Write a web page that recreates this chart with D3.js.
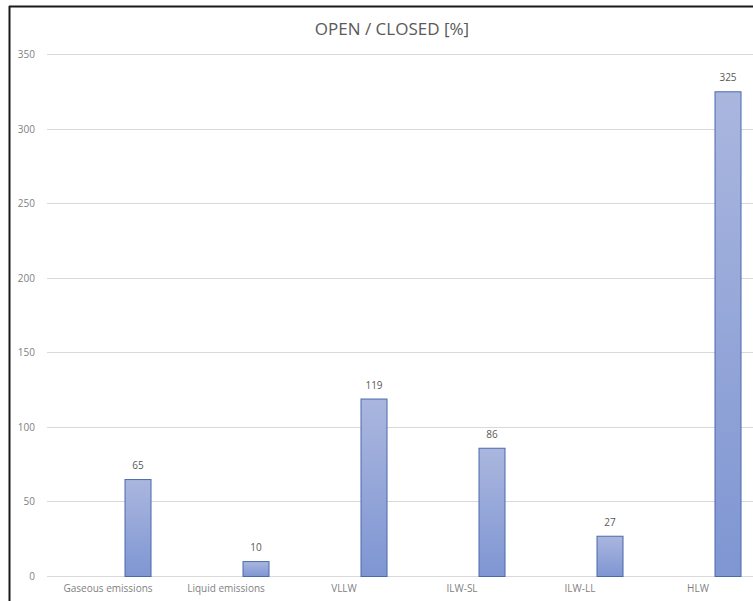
<!DOCTYPE html>
<html>
<head>
<meta charset="utf-8">
<script src="https://cdn.jsdelivr.net/npm/d3@7"></script>
<style>
  html, body { margin: 0; padding: 0; background: #fff; }
  svg { display: block; }
</style>
</head>
<body>
<script>
const categories = ["Gaseous emissions", "Liquid emissions", "VLLW", "ILW-SL", "ILW-LL", "HLW"];
const seriesNames = ["OPEN", "CLOSED"];
const openValues = [null, null, null, null, null, null];
const closedValues = [65, 10, 119, 86, 27, 325];
const yTicks = [0, 50, 100, 150, 200, 250, 300, 350];
const title = "OPEN / CLOSED [%]";

const W = 753, H = 601;
const svg = d3.select("body").append("svg").attr("width", W).attr("height", H);

const defs = svg.append("defs");
const grad = defs.append("linearGradient").attr("id", "barGrad")
  .attr("x1", 0).attr("y1", 0).attr("x2", 0).attr("y2", 1);
grad.append("stop").attr("offset", "0%").attr("stop-color", "#aab6de");
grad.append("stop").attr("offset", "100%").attr("stop-color", "#7f96d3");

// frame (left and top edges visible)
svg.append("line").attr("x1", 9.5).attr("x2", 9.5).attr("y1", 6).attr("y2", H).attr("stroke", "#1a1a1a").attr("stroke-width", 2);
svg.append("line").attr("x1", 9).attr("x2", W).attr("y1", 6.5).attr("y2", 6.5).attr("stroke", "#1a1a1a").attr("stroke-width", 2);

const x0 = d3.scaleBand().domain(categories).range([49, 757]).paddingInner(0).paddingOuter(0);
const x1 = d3.scaleBand().domain(seriesNames).range([0, x0.bandwidth()]).paddingInner(0.55).paddingOuter(0.258);
const y = d3.scaleLinear().domain([0, 350]).range([576, 54]);

const font = "'Open Sans', 'Liberation Sans', sans-serif";

// title
svg.append("text").attr("x", 392).attr("y", 35).attr("text-anchor", "middle")
  .attr("font-family", font).attr("font-size", 17).attr("fill", "#595959").text(title);

// gridlines
svg.append("g").selectAll("line").data(yTicks).join("line")
  .attr("x1", 47).attr("x2", W)
  .attr("y1", d => Math.round(y(d)) + 0.5).attr("y2", d => Math.round(y(d)) + 0.5)
  .attr("stroke", "#d9d9d9").attr("stroke-width", 1);

// y axis labels
const yAxis = d3.axisLeft(y).tickValues(yTicks).tickSize(0).tickPadding(0);
const gy = svg.append("g").attr("transform", "translate(35,0)").call(yAxis);
gy.select(".domain").remove();
gy.selectAll("text").attr("font-family", font).attr("font-size", 10).attr("fill", "#7f7f7f").attr("dy", "0.35em");

// x axis labels
const xAxis = d3.axisBottom(x0).tickSize(0).tickPadding(0);
const gx = svg.append("g").attr("transform", "translate(0,585)").call(xAxis);
gx.select(".domain").remove();
gx.selectAll("text").attr("font-family", font).attr("font-size", 10).attr("fill", "#7f7f7f").attr("dy", "0.71em");

// bars
const data = categories.map((c, i) => ({ cat: c, open: openValues[i], closed: closedValues[i] }));
const groups = svg.append("g").selectAll("g").data(data).join("g")
  .attr("transform", d => `translate(${x0(d.cat)},0)`);

groups.filter(d => d.closed != null).append("rect")
  .attr("x", x1("CLOSED") + 0.5)
  .attr("y", d => y(d.closed) + 0.5)
  .attr("width", x1.bandwidth() - 1)
  .attr("height", d => y(0) - y(d.closed))
  .attr("fill", "url(#barGrad)")
  .attr("stroke", "#4b69ad").attr("stroke-width", 1);

groups.filter(d => d.closed != null).append("text")
  .attr("x", x1("CLOSED") + x1.bandwidth() / 2)
  .attr("y", d => y(d.closed) - 10)
  .attr("text-anchor", "middle")
  .attr("font-family", font).attr("font-size", 10).attr("fill", "#595959")
  .text(d => d.closed);
</script>
</body>
</html>
